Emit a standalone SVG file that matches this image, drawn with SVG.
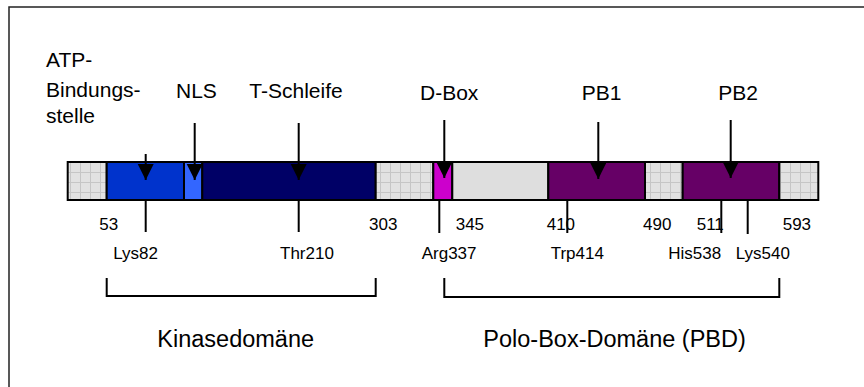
<svg xmlns="http://www.w3.org/2000/svg" width="864" height="387" viewBox="0 0 864 387">
  <style>
    text { font-family: "Liberation Sans", Arial, sans-serif; fill: #000; }
    .lab { font-size: 21px; }
    .num { font-size: 17px; }
    .big { font-size: 23.5px; }
    .seg { stroke: #000; stroke-width: 2; }
    .ln { stroke: #000; stroke-width: 2; fill: none; }
    .arr { stroke: #000; stroke-width: 2; marker-end: url(#head); }
  </style>
  <defs>
    <pattern id="grid" patternUnits="userSpaceOnUse" x="0" y="2" width="10" height="10">
      <rect width="10" height="10" fill="#E2E2E2"/>
      <path d="M0 0.5 H10 M0.5 0 V10" stroke="#C6C6C6" stroke-width="1"/>
    </pattern>
    <marker id="head" markerUnits="userSpaceOnUse" markerWidth="18" markerHeight="18" refX="16" refY="8" orient="auto">
      <path d="M0 0 L16 8 L0 16 Z" fill="#000"/>
    </marker>
  </defs>

  <rect x="9" y="7" width="900" height="500" fill="none" stroke="#222" stroke-width="1.5"/>

  <g id="bar">
    <rect class="seg" x="67.7" y="162" width="39" height="38" fill="url(#grid)"/>
    <rect class="seg" x="106.7" y="162" width="77.3" height="38" fill="#0033CC"/>
    <rect class="seg" x="184" y="162" width="18.3" height="38" fill="#3366FF"/>
    <rect class="seg" x="202.3" y="162" width="173.4" height="38" fill="#000066"/>
    <rect class="seg" x="375.7" y="162" width="57.6" height="38" fill="url(#grid)"/>
    <rect class="seg" x="433.3" y="162" width="19" height="38" fill="#CC00CC"/>
    <rect class="seg" x="452.3" y="162" width="96" height="38" fill="#DEDEDE"/>
    <rect class="seg" x="548.3" y="162" width="96.7" height="38" fill="#660066"/>
    <rect class="seg" x="645" y="162" width="37.7" height="38" fill="url(#grid)"/>
    <rect class="seg" x="682.7" y="162" width="96.6" height="38" fill="#660066"/>
    <rect class="seg" x="779.3" y="162" width="39" height="38" fill="url(#grid)"/>
  </g>

  <g id="connectors">
    <line class="arr" x1="145.7" y1="154" x2="145.7" y2="180"/>
    <line class="arr" x1="194.7" y1="123" x2="194.7" y2="180"/>
    <line class="arr" x1="298.7" y1="123" x2="298.7" y2="180"/>
    <line class="arr" x1="444.3" y1="120" x2="444.3" y2="178"/>
    <line class="arr" x1="598.3" y1="122" x2="598.3" y2="179"/>
    <line class="arr" x1="730.7" y1="120" x2="730.7" y2="178"/>
    <line class="ln" x1="145.7" y1="200" x2="145.7" y2="232"/>
    <line class="ln" x1="298.7" y1="200" x2="298.7" y2="232"/>
    <line class="ln" x1="439.3" y1="200" x2="439.3" y2="233"/>
    <line class="ln" x1="567.3" y1="200" x2="567.3" y2="233"/>
    <line class="ln" x1="721.3" y1="200" x2="721.3" y2="233"/>
    <line class="ln" x1="747.7" y1="200" x2="747.7" y2="234"/>
    <path class="ln" d="M106.7 278 V296 H375.7 V278"/>
    <path class="ln" d="M444.3 278 V297 H779.3 V278"/>
  </g>

  <g id="atp"><text class="lab" x="46" y="67">ATP-</text><text class="lab" x="46" y="97">Bindungs-</text><text class="lab" x="46" y="123">stelle</text></g>
  <g id="nls"><text class="lab" x="176" y="98">NLS</text></g>
  <g id="tschleife"><text class="lab" x="249.3" y="98">T-Schleife</text></g>
  <g id="dbox"><text class="lab" x="420" y="100">D-Box</text></g>
  <g id="pb1"><text class="lab" x="581.7" y="100">PB1</text></g>
  <g id="pb2"><text class="lab" x="718.3" y="100">PB2</text></g>

  <g id="numbers">
    <text class="num" x="99.3" y="230">53</text>
    <text class="num" x="369" y="230">303</text>
    <text class="num" x="455.7" y="230">345</text>
    <text class="num" x="546.7" y="230">410</text>
    <text class="num" x="643" y="230">490</text>
    <text class="num" x="696.7" y="230">511</text>
    <text class="num" x="782.7" y="230">593</text>
  </g>

  <g id="residues">
    <text class="num" x="113.3" y="259">Lys82</text>
    <text class="num" x="280" y="259">Thr210</text>
    <text class="num" x="421.7" y="259">Arg337</text>
    <text class="num" x="550.7" y="259">Trp414</text>
    <text class="num" x="668.3" y="259">His538</text>
    <text class="num" x="735.7" y="259">Lys540</text>
  </g>

  <g id="kinasedomaene"><text class="big" x="157.3" y="346.7">Kinasedomäne</text></g>
  <g id="pbd"><text class="big" x="483.3" y="346.7">Polo-Box-Domäne (PBD)</text></g>
</svg>
